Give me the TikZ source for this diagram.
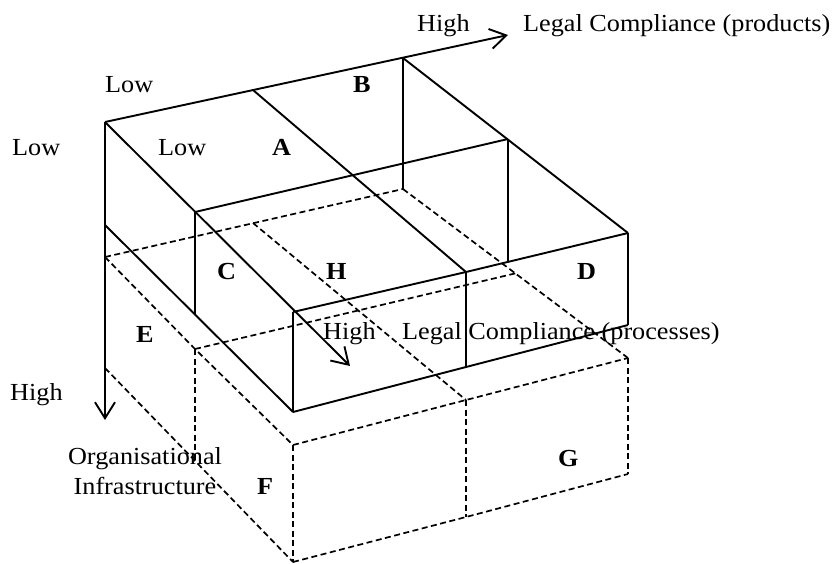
\documentclass[tikz,border=0pt]{standalone}
\usepackage{fontspec}
\setmainfont{Liberation Serif}[FakeStretch=1.07]
\usetikzlibrary{arrows.meta}
\begin{document}
\begin{tikzpicture}[x=1pt,y=-1pt,
  solidline/.style={line width=1.9pt},
  hidden/.style={line width=1.7pt, dash pattern=on 6pt off 3.5pt},
  axisarrow/.style={solidline, -{Straight Barb[length=16pt,width=20pt,line width=1.9pt]}},
  lbl/.style={font=\fontsize{24.5pt}{30pt}\selectfont, inner sep=0pt, anchor=base west},
  cell/.style={font=\fontsize{24.5pt}{30pt}\selectfont\bfseries, inner sep=0pt, anchor=base west}]
\useasboundingbox (0,0) rectangle (837,563);
\fill[white] (0,0) rectangle (837,563);
% ---- upper (solid) layer ----
\coordinate (o)   at (105,122);
\coordinate (tm)  at (253,90);
\coordinate (tb)  at (403,58);
\coordinate (tipP) at (508,35);
\coordinate (tipI) at (105,420);
\coordinate (tipR) at (350,366);
\coordinate (c1)  at (195,212);
\coordinate (c2)  at (508,139);
\coordinate (f1)  at (293,312);
\coordinate (f2)  at (466,272);
\coordinate (f3)  at (628,233);
\coordinate (l1)  at (105,225);
\coordinate (f4)  at (293,412);
\coordinate (f5)  at (466,367);
\coordinate (f6)  at (628,325);
\coordinate (v403) at (403,189);
\coordinate (v508) at (508,261);
\coordinate (v195) at (195,314);
% ---- lower (dashed) layer ----
\coordinate (d1)  at (105,257);
\coordinate (d2)  at (253,223);
\coordinate (d4)  at (195,349);
\coordinate (d5)  at (517,273);
\coordinate (d6)  at (293,445);
\coordinate (d7)  at (466,400);
\coordinate (d8)  at (628,358);
\coordinate (d9)  at (105,368);
\coordinate (d10) at (195,461);
\coordinate (d11) at (293,562);
\coordinate (d12) at (466,517);
\coordinate (d13) at (628,474);

% dashed lines
\draw[hidden] (d1) -- (v403);
\draw[hidden] (d1) -- (d4) -- (d6);
\draw[hidden] (d4) -- (d5);
\draw[hidden] (v403) -- (d8);
\draw[hidden] (d2) -- (d7);
\draw[hidden] (d6) -- (d7) -- (d8);
\draw[hidden] (d6) -- (d11);
\draw[hidden] (d7) -- (d12);
\draw[hidden] (d8) -- (d13);
\draw[hidden] (d11) -- (d12) -- (d13);
\draw[hidden] (d9) -- (d11);
\draw[hidden] (d4) -- (d10);

% solid lines
\draw[axisarrow] (o) -- (tipP);
\draw[axisarrow] (o) -- (tipI);
\draw[axisarrow] (o) -- (tipR);
\draw[solidline] (tm) -- (f2);
\draw[solidline] (tb) -- (f3);
\draw[solidline] (tb) -- (v403);
\draw[solidline] (c1) -- (c2);
\draw[solidline] (c2) -- (v508);
\draw[solidline] (c1) -- (v195);
\draw[solidline] (l1) -- (f4);
\draw[solidline] (f1) -- (f4);
\draw[solidline] (f1) -- (f2) -- (f3);
\draw[solidline] (f4) -- (f5) -- (f6);
\draw[solidline] (f2) -- (f5);
\draw[solidline] (f3) -- (f6);

% labels
\node[lbl] (highP) at (417,31) {High};
\node[lbl] (legalP) at (523,31) {Legal Compliance (products)};
\node[lbl] (lowP) at (105,92) {Low};
\node[lbl] (lowI) at (12,155) {Low};
\node[lbl] (lowR) at (158,155) {Low};
\node[cell] (A) at (272,155) {A};
\node[cell] (B) at (353,92) {B};
\node[cell] (C) at (217,279) {C};
\node[cell] (H) at (326,279) {H};
\node[cell] (D) at (577,279) {D};
\node[cell] (E) at (136,342) {E};
\node[cell] (F) at (257,494) {F};
\node[cell] (G) at (558,466) {G};
\node[lbl] (highR) at (323,339) {High};
\node[lbl] (legalR) at (402,339) {Legal Compliance (processes)};
\node[lbl] (highI) at (10,400) {High};
\node[lbl, anchor=base, align=center] (org) at (145,494) {Organisational\\Infrastructure};
\end{tikzpicture}
\end{document}
